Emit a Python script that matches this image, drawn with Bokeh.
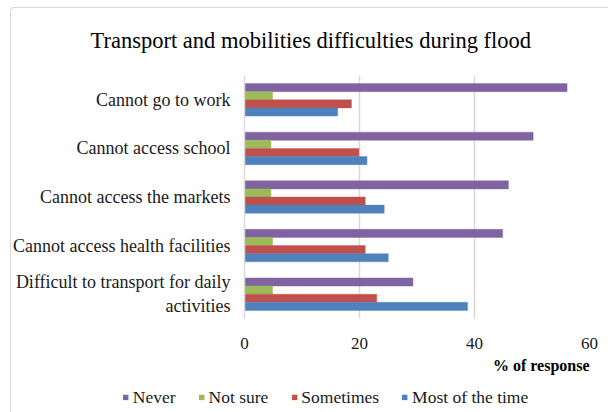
from bokeh.plotting import figure
from bokeh.models import (FactorRange, Range1d, ColumnDataSource, Legend, LegendItem, Title,
                          InlineStyleSheet)
from bokeh.transform import dodge
from bokeh.layouts import column
from bokeh.embed import file_html
from bokeh.resources import INLINE

categories = [
    "Cannot go to work",
    "Cannot access school",
    "Cannot access the markets",
    "Cannot access health facilities",
    "Difficult to transport for daily\nactivities",
]
series_names = ["Never", "Not sure", "Sometimes", "Most of the time"]
never = [56.1, 50.2, 45.9, 44.9, 29.3]
not_sure = [4.9, 4.6, 4.6, 4.9, 4.9]
sometimes = [18.6, 19.9, 21.0, 21.0, 23.0]
most_of_time = [16.2, 21.3, 24.3, 25.0, 38.8]
colors = ["#8064A2", "#9BBB59", "#C0504D", "#4F81BD"]
x_ticks = [0, 20, 40, 60]

FONT = "Liberation Serif"
TXT = "#1a1a1a"

src = ColumnDataSource(dict(cat=categories, never=never, not_sure=not_sure,
                            sometimes=sometimes, most=most_of_time))

p = figure(
    y_range=FactorRange(factors=categories[::-1], range_padding=0),
    x_range=Range1d(0, 60),
    width=608, height=381,
    min_border_left=244, min_border_right=19, min_border_top=75, min_border_bottom=63,
    output_backend="svg", toolbar_location=None,
    background_fill_color="white", border_fill_color="white",
)
p.frame_align = False
p.outline_line_color = None

# light chart-area border (top and left edges, as in the reference)
p.stylesheets = [InlineStyleSheet(css=(
    ":host::after { content: ''; position: absolute; left: 10px; top: 7px; "
    "width: 700px; height: 500px; border-left: 1px solid #d9d9d9; "
    "border-top: 1px solid #d9d9d9; border-top-left-radius: 4px; "
    "pointer-events: none; z-index: 10; }"
))]

p.title.text = "Transport and mobilities difficulties during flood"
p.title.text_font = FONT
p.title.text_font_size = "22.5px"
p.title.text_font_style = "normal"
p.title.align = "left"
p.title.offset = -154
p.title.text_color = "#000000"
p.title.standoff = 46

step = 0.167
offsets = [1.5 * step, 0.5 * step, -0.5 * step, -1.5 * step]
cols = ["never", "not_sure", "sometimes", "most"]
for col, off, c in zip(cols, offsets, colors):
    p.hbar(y=dodge("cat", off, range=p.y_range), right=col, left=0, height=step,
           source=src, fill_color=c, line_color=c, line_alpha=0.4, line_width=1)

# axes
p.xaxis.ticker = x_ticks
p.xaxis.major_tick_line_color = None
p.xaxis.minor_tick_line_color = None
p.xaxis.axis_line_color = None
p.xaxis.major_label_text_font = FONT
p.xaxis.major_label_text_font_size = "17px"
p.xaxis.major_label_text_color = TXT
p.xaxis.major_label_standoff = 13

p.yaxis.major_tick_line_color = None
p.yaxis.minor_tick_line_color = None
p.yaxis.axis_line_color = "#d9d9d9"
p.yaxis.axis_line_width = 1.5
p.yaxis.major_label_text_font = FONT
p.yaxis.major_label_text_font_size = "18px"
p.yaxis.major_label_text_color = TXT
p.yaxis.major_label_standoff = 8

p.ygrid.grid_line_color = None
p.xgrid.grid_line_color = "#d9d9d9"
p.xgrid.grid_line_width = 1.5

xtitle = Title(text="% of response", align="right", text_font=FONT,
               text_font_size="16px", text_font_style="bold", text_color="#000000",
               standoff=7)
p.add_layout(xtitle, "below")

# legend strip below the chart (swatch proxies of zero width, never visible)
p2 = figure(width=608, height=31, x_range=Range1d(0, 1), y_range=Range1d(0, 1),
            min_border_left=42, min_border_right=0, min_border_top=0, min_border_bottom=0,
            output_backend="svg", toolbar_location=None,
            background_fill_color="white", border_fill_color="white")
p2.frame_align = False
p2.axis.visible = False
p2.grid.visible = False
p2.outline_line_color = None
proxy = ColumnDataSource(dict(y=[0], right=[0]))
leg_renderers = [p2.hbar(y="y", left=0, right="right", height=0, source=proxy,
                         fill_color=c, line_color=None) for c in colors]
legend = Legend(items=[LegendItem(label=n, renderers=[r]) for n, r in zip(series_names, leg_renderers)],
                orientation="horizontal", location="center",
                label_text_font=FONT, label_text_font_size="17.5px", label_text_color=TXT,
                glyph_width=7, glyph_height=7, label_standoff=4, spacing=22,
                border_line_color=None, background_fill_alpha=0,
                padding=0, margin=0)
p2.add_layout(legend)

layout = column(p, p2, spacing=0)
open("out.html", "w").write(file_html(layout, INLINE))
